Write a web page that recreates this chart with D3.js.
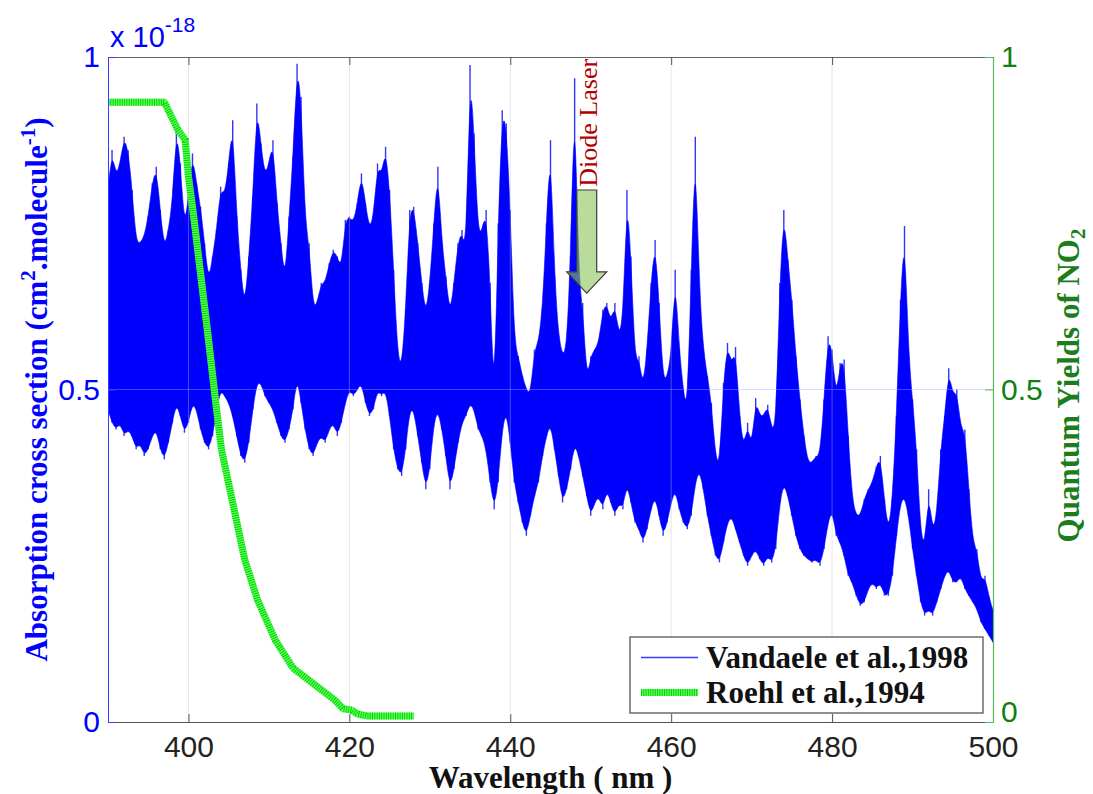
<!DOCTYPE html>
<html><head><meta charset="utf-8">
<script src="https://cdn.jsdelivr.net/npm/d3@7"></script>
<style>body{margin:0;background:#fff;} svg{display:block;}</style>
</head><body><svg id="c" width="1093" height="794"></svg>
<script>
// ---------------- data ----------------
const xTicks = [400, 420, 440, 460, 480, 500];
const yTicksLeft = [0, 0.5, 1];
const yTickLabelsLeft = ["0", "0.5", "1"];
const yTicksRight = [0, 0.5, 1];
const yTickLabelsRight = ["0", "0.5", "1"];

// Vandaele et al., 1998 absorption cross section (x 1e-18), envelope sampled every 0.5 nm from 390 to 500 nm
const wavelengths = d3.range(0, 221).map(i => 390 + i * 0.5);
const vandaeleUpper = [
 0.80,0.86,0.82,0.84,0.88,0.86,0.80,0.72,0.72,0.73,0.76,0.81,0.835,0.77,0.71,0.74,0.78,0.895,0.84,0.74,
 0.79,0.855,0.81,0.775,0.72,0.66,0.70,0.74,0.805,0.79,0.84,0.905,0.76,0.68,0.62,0.70,0.79,0.93,0.87,0.82,
 0.84,0.875,0.78,0.72,0.66,0.76,0.85,0.99,0.94,0.75,0.72,0.62,0.63,0.66,0.66,0.69,0.71,0.70,0.68,0.755,
 0.76,0.75,0.78,0.825,0.78,0.74,0.76,0.84,0.82,0.865,0.80,0.68,0.55,0.53,0.62,0.77,0.775,0.72,0.66,0.61,
 0.66,0.75,0.835,0.72,0.67,0.61,0.66,0.72,0.74,0.70,0.988,0.885,0.73,0.74,0.77,0.66,0.46,0.75,0.92,0.90,
 0.77,0.57,0.55,0.52,0.50,0.49,0.56,0.57,0.62,0.75,0.875,0.67,0.58,0.55,0.56,0.70,0.968,0.66,0.63,0.51,
 0.55,0.56,0.57,0.62,0.63,0.60,0.63,0.58,0.60,0.80,0.70,0.54,0.55,0.50,0.56,0.66,0.725,0.63,0.51,0.52,
 0.55,0.68,0.56,0.50,0.46,0.68,0.88,0.65,0.56,0.52,0.48,0.40,0.38,0.51,0.57,0.535,0.564,0.46,0.41,0.45,
 0.41,0.487,0.46,0.46,0.477,0.44,0.44,0.66,0.77,0.695,0.635,0.55,0.485,0.43,0.39,0.39,0.40,0.40,0.485,0.58,
 0.56,0.485,0.54,0.545,0.43,0.335,0.31,0.31,0.335,0.35,0.36,0.384,0.40,0.335,0.284,0.335,0.46,0.635,0.746,0.552,
 0.485,0.41,0.284,0.26,0.35,0.284,0.31,0.41,0.46,0.532,0.49,0.50,0.44,0.44,0.35,0.27,0.26,0.21,0.22,0.188,
 0.168
];
const vandaeleLower = [
 0.47,0.45,0.44,0.45,0.43,0.44,0.43,0.41,0.42,0.40,0.41,0.43,0.44,0.41,0.395,0.42,0.45,0.48,0.46,0.435,
 0.45,0.48,0.47,0.44,0.42,0.41,0.43,0.47,0.50,0.49,0.48,0.46,0.43,0.40,0.39,0.42,0.47,0.51,0.51,0.49,
 0.48,0.47,0.45,0.43,0.42,0.44,0.47,0.52,0.48,0.44,0.41,0.40,0.42,0.43,0.42,0.44,0.45,0.43,0.45,0.48,
 0.50,0.49,0.50,0.51,0.48,0.46,0.47,0.50,0.49,0.50,0.46,0.41,0.38,0.37,0.41,0.47,0.47,0.43,0.39,0.35,
 0.38,0.45,0.47,0.44,0.40,0.35,0.38,0.42,0.45,0.46,0.48,0.47,0.44,0.43,0.41,0.36,0.32,0.36,0.44,0.47,
 0.42,0.36,0.33,0.30,0.28,0.31,0.34,0.36,0.40,0.43,0.45,0.41,0.37,0.33,0.35,0.38,0.42,0.40,0.37,0.34,
 0.31,0.33,0.34,0.32,0.35,0.33,0.31,0.33,0.32,0.36,0.33,0.30,0.29,0.27,0.29,0.32,0.34,0.31,0.28,0.30,
 0.33,0.35,0.32,0.30,0.29,0.31,0.36,0.38,0.35,0.31,0.28,0.25,0.24,0.27,0.30,0.31,0.29,0.27,0.25,0.235,
 0.25,0.26,0.245,0.235,0.25,0.24,0.26,0.33,0.36,0.34,0.31,0.28,0.26,0.25,0.245,0.24,0.245,0.235,0.26,0.30,
 0.32,0.28,0.27,0.25,0.22,0.21,0.19,0.175,0.18,0.20,0.21,0.20,0.21,0.19,0.19,0.22,0.28,0.33,0.34,0.31,
 0.26,0.22,0.18,0.16,0.17,0.16,0.18,0.20,0.22,0.23,0.21,0.21,0.22,0.20,0.19,0.18,0.17,0.15,0.14,0.13,
 0.12
];

// Roehl et al., 1994 quantum yields of NO2
const roehlWl = [390, 397, 398.7, 399.6, 400, 400.6, 401.4, 402.5, 403.3, 404.1, 405.6, 407, 408.6, 410.8, 413, 415.7, 418.2, 419.2, 420.3, 421, 422.2, 428];
const roehlQY = [0.932, 0.932, 0.89, 0.875, 0.82, 0.765, 0.685, 0.574, 0.49, 0.41, 0.324, 0.244, 0.183, 0.123, 0.081, 0.056, 0.033, 0.02, 0.018, 0.012, 0.009, 0.009];

const seriesNames = ["Vandaele et al.,1998", "Roehl et al.,1994"];

// ---------------- layout ----------------
const svg = d3.select("#c");
const L = 108, R = 993, T = 57, B = 722;
const x = d3.scaleLinear().domain([390, 500]).range([L, R]);
const yL = d3.scaleLinear().domain([0, 1]).range([B, T]);
const yR = d3.scaleLinear().domain([0, 1]).range([B, T]);
const serif = "'Liberation Serif','Times New Roman',serif";
const sans = "'Liberation Sans',Arial,Helvetica,sans-serif";
const BLUE = "#0000ff", GREEN_TXT = "#117f11";

svg.append("defs").append("clipPath").attr("id", "plotclip")
  .append("rect").attr("x", L).attr("y", T).attr("width", R - L).attr("height", B - T);

const plot = svg.append("g").attr("clip-path", "url(#plotclip)");

// spectrum: dense body (smoothed envelope) + needle lines at each sample
const specData = wavelengths.map((w, i) => ({w, hi: vandaeleUpper[i], lo: vandaeleLower[i]}));
plot.append("path").datum(specData)
  .attr("d", d3.area().curve(d3.curveBasis).x(d => x(d.w)).y0(d => yL(d.lo)).y1(d => yL(d.hi)))
  .attr("fill", BLUE).attr("stroke", BLUE).attr("stroke-width", 0.6);
plot.selectAll(".needle").data(specData).enter().append("line")
  .attr("x1", d => x(d.w)).attr("x2", d => x(d.w))
  .attr("y1", d => yL(d.lo)).attr("y2", d => yL(d.hi))
  .attr("stroke", BLUE).attr("stroke-width", 1.4).attr("stroke-opacity", 0.8);

// grid on top (translucent)
plot.selectAll(".vg").data(xTicks.filter(t => t < 500)).enter().append("line")
  .attr("x1", d => x(d)).attr("x2", d => x(d)).attr("y1", T).attr("y2", B)
  .attr("stroke", "#c0c0c0").attr("stroke-opacity", 0.4).attr("stroke-width", 1);
plot.append("line").attr("x1", L).attr("x2", R).attr("y1", yL(0.5)).attr("y2", yL(0.5))
  .attr("stroke", "#a7a7ff").attr("stroke-opacity", 0.4).attr("stroke-width", 1);

// Roehl line (hatched thick green)
const roehlData = roehlWl.map((w, i) => ({w, v: roehlQY[i]}));
const gl = d3.line().x(d => x(d.w)).y(d => yR(d.v));
plot.append("path").datum(roehlData).attr("d", gl).attr("fill", "none")
  .attr("stroke", "#5cff5c").attr("stroke-width", 7);
plot.append("path").datum(roehlData).attr("d", gl).attr("fill", "none")
  .attr("stroke", "#00d400").attr("stroke-width", 7).attr("stroke-dasharray", "1,1.3");

// Diode laser arrow
const ax = x(449.5), aTop = yL(0.80), aNeck = yL(0.677), aTip = yL(0.645);
const arrowPts = [[ax - 10, aTop], [ax + 10, aTop], [ax + 10, aNeck], [ax + 20, aNeck], [ax, aTip], [ax - 20, aNeck], [ax - 10, aNeck]];
svg.append("polygon").attr("points", arrowPts.map(p => p.join(",")).join(" "))
  .attr("fill", "rgb(138,197,87)").attr("fill-opacity", 0.6)
  .attr("stroke", "#3a3a3a").attr("stroke-width", 1.2);
svg.append("text").attr("transform", `translate(${x(450.8)},${yL(0.805)}) rotate(-90)`)
  .attr("font-family", serif).attr("font-size", 26).attr("fill", "#b00000")
  .attr("text-anchor", "start").text("Diode Laser");

// ---------------- axes ----------------
const axB = svg.append("g").attr("transform", `translate(0,${B})`)
  .call(d3.axisBottom(x).tickValues(xTicks).tickFormat(d3.format("d")).tickSizeInner(-8).tickSizeOuter(0).tickPadding(14));
axB.select(".domain").attr("stroke", "#555").attr("stroke-width", 1);
axB.selectAll(".tick line").attr("stroke", "#555");
axB.selectAll(".tick text").attr("font-family", sans).attr("font-size", 30).attr("fill", "#222");

const axT = svg.append("g").attr("transform", `translate(0,${T})`)
  .call(d3.axisTop(x).tickValues(xTicks).tickFormat("").tickSizeInner(-8).tickSizeOuter(0));
axT.select(".domain").attr("stroke", "#666").attr("stroke-width", 1);
axT.selectAll(".tick line").attr("stroke", "#555");

const axLft = svg.append("g").attr("transform", `translate(${L},0)`)
  .call(d3.axisLeft(yL).tickValues(yTicksLeft).tickFormat((d, i) => yTickLabelsLeft[i]).tickSizeInner(-8).tickSizeOuter(0).tickPadding(8));
axLft.select(".domain").attr("stroke", "#3a3aff").attr("stroke-width", 1);
axLft.selectAll(".tick line").attr("stroke", "#3a3aff");
axLft.selectAll(".tick text").attr("font-family", sans).attr("font-size", 30).attr("fill", BLUE);

const axRgt = svg.append("g").attr("transform", `translate(${R},0)`)
  .call(d3.axisRight(yR).tickValues(yTicksRight).tickFormat((d, i) => yTickLabelsRight[i]).tickSizeInner(-8).tickSizeOuter(0).tickPadding(8));
axRgt.select(".domain").attr("stroke", "#5cb85c").attr("stroke-width", 1.2);
axRgt.selectAll(".tick line").attr("stroke", "#5cb85c");
axRgt.selectAll(".tick text").attr("font-family", sans).attr("font-size", 30).attr("fill", GREEN_TXT);
// keep the right "0" just clear of the "500" tick label
axRgt.selectAll(".tick text").filter(d => d === 0).attr("dy", "-0.02em");

// exponent label
const ex = svg.append("text").attr("x", 110).attr("y", 47).attr("font-family", sans).attr("font-size", 29).attr("fill", BLUE);
ex.append("tspan").text("x 10");
ex.append("tspan").attr("dy", -15).attr("font-size", 21).text("-18");

// axis titles
svg.append("text").attr("x", (L + R) / 2).attr("y", 788).attr("text-anchor", "middle")
  .attr("font-family", serif).attr("font-weight", "bold").attr("font-size", 31).attr("fill", "#111")
  .text("Wavelength ( nm )");

const yt = svg.append("text").attr("transform", `translate(47,${(T + B) / 2}) rotate(-90)`)
  .attr("text-anchor", "middle").attr("font-family", serif).attr("font-weight", "bold")
  .attr("font-size", 31).attr("fill", BLUE);
yt.append("tspan").text("Absorption cross section (cm");
yt.append("tspan").attr("dy", -12).attr("font-size", 21).text("2");
yt.append("tspan").attr("dy", 12).text(".molecule");
yt.append("tspan").attr("dy", -12).attr("font-size", 21).text("-1");
yt.append("tspan").attr("dy", 12).text(")");

const yt2 = svg.append("text").attr("transform", `translate(1079,${(T + B) / 2 - 4}) rotate(-90)`)
  .attr("text-anchor", "middle").attr("font-family", serif).attr("font-weight", "bold")
  .attr("font-size", 31).attr("fill", "#1b7d1b");
yt2.append("tspan").text("Quantum Yields of NO");
yt2.append("tspan").attr("dy", 6).attr("font-size", 21).text("2");

// ---------------- legend ----------------
const lg = svg.append("g");
lg.append("rect").attr("x", 630).attr("y", 637).attr("width", 353).attr("height", 76)
  .attr("fill", "#fff").attr("stroke", "#555").attr("stroke-width", 1.3);
lg.append("line").attr("x1", 641).attr("x2", 698).attr("y1", 657.5).attr("y2", 657.5)
  .attr("stroke", "#3b3bff").attr("stroke-width", 1.3);
lg.append("line").attr("x1", 641).attr("x2", 698).attr("y1", 692.5).attr("y2", 692.5)
  .attr("stroke", "#5cff5c").attr("stroke-width", 7);
lg.append("line").attr("x1", 641).attr("x2", 698).attr("y1", 692.5).attr("y2", 692.5)
  .attr("stroke", "#00d400").attr("stroke-width", 7).attr("stroke-dasharray", "1,1.3");
lg.selectAll(".lt").data(seriesNames).enter().append("text")
  .attr("x", 706).attr("y", (d, i) => 668 + i * 35)
  .attr("font-family", serif).attr("font-weight", "bold").attr("font-size", 31).attr("fill", "#111")
  .text(d => d);
</script></body></html>
